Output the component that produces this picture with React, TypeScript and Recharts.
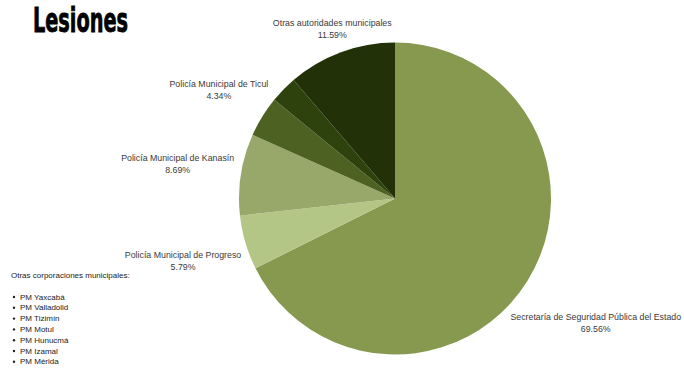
import React from "react";
import { PieChart, Pie, Cell } from "recharts";

const categories = [
  "Secretaría de Seguridad Pública del Estado",
  "Policía Municipal de Progreso",
  "Policía Municipal de Kanasín",
  "Policía Municipal de Ticul",
  "Otras corporaciones municipales",
  "Otras autoridades municipales",
];
const values = [69.56, 5.79, 8.69, 4.34, 2.9, 11.59];
const percentLabels = ["69.56%", "5.79%", "8.69%", "4.34%", "", "11.59%"];
const showLabel = [true, true, true, true, false, true];
const otherCorporations = [
  "PM Yaxcabá",
  "PM Valladolid",
  "PM Tizimín",
  "PM Motul",
  "PM Hunucmá",
  "PM Izamal",
  "PM Mérida",
];

const colors = ["#87994F", "#B3C685", "#97A86A", "#4D6122", "#2E420E", "#233109"];
const labelRadius = [236, 221, 220, 207, 0, 181];
const RAD = Math.PI / 180;
const labelFont = "'Liberation Sans', Arial, sans-serif";

const data = categories.map((name, i) => ({ name, value: values[i], pct: percentLabels[i] }));

const renderLabel = (props: any) => {
  const { cx, cy, midAngle, index } = props;
  if (!showLabel[index]) return null;
  const r = labelRadius[index];
  const x = cx + Math.cos(-midAngle * RAD) * r;
  const y = cy + Math.sin(-midAngle * RAD) * r;
  return (
    <g>
      <text x={x} y={y - 6} textAnchor="middle" dominantBaseline="central" fontSize={8.8} fill="#3A3A3A" fontFamily={labelFont}>
        {categories[index]}
      </text>
      <text x={x} y={y + 6} textAnchor="middle" dominantBaseline="central" fontSize={8.8} fill="#3A3A3A" fontFamily={labelFont}>
        {percentLabels[index]}
      </text>
    </g>
  );
};

export default function App() {
  return (
    <div style={{ position: "absolute", left: 0, top: 0, width: 684, height: 369, background: "#FFFFFF", overflow: "hidden" }}>
      <PieChart width={684} height={369} margin={{ top: 0, right: 0, bottom: 0, left: 0 }}>
        <Pie
          data={data}
          dataKey="value"
          nameKey="name"
          cx={395}
          cy={198.5}
          outerRadius={156}
          startAngle={90}
          endAngle={-270}
          stroke="none"
          label={renderLabel}
          labelLine={false}
          isAnimationActive={false}
        >
          {data.map((d, i) => (
            <Cell key={d.name} fill={colors[i]} />
          ))}
        </Pie>
      </PieChart>
      <svg width={684} height={369} style={{ position: "absolute", left: 0, top: 0, pointerEvents: "none" }}>
        <text
          x={33}
          y={32}
          fontSize={33}
          fontWeight={700}
          fill="#000000"
          fontFamily="'DejaVu Sans Condensed', 'Liberation Sans', sans-serif"
          stroke="#000000"
          strokeWidth={0.8}
          textLength={95}
          lengthAdjust="spacingAndGlyphs"
        >
          Lesiones
        </text>
        <text x={11} y={275} dominantBaseline="central" fontSize={8} fill="#222222" fontFamily={labelFont}>
          Otras corporaciones municipales:
        </text>
        {otherCorporations.map((c, i) => (
          <g key={c}>
            <circle cx={14} cy={297 + i * 10.8} r={1.2} fill="#222222" />
            <text x={20} y={297 + i * 10.8} dominantBaseline="central" fontSize={8} fill="#222222" fontFamily={labelFont}>
              {c}
            </text>
          </g>
        ))}
      </svg>
    </div>
  );
}
